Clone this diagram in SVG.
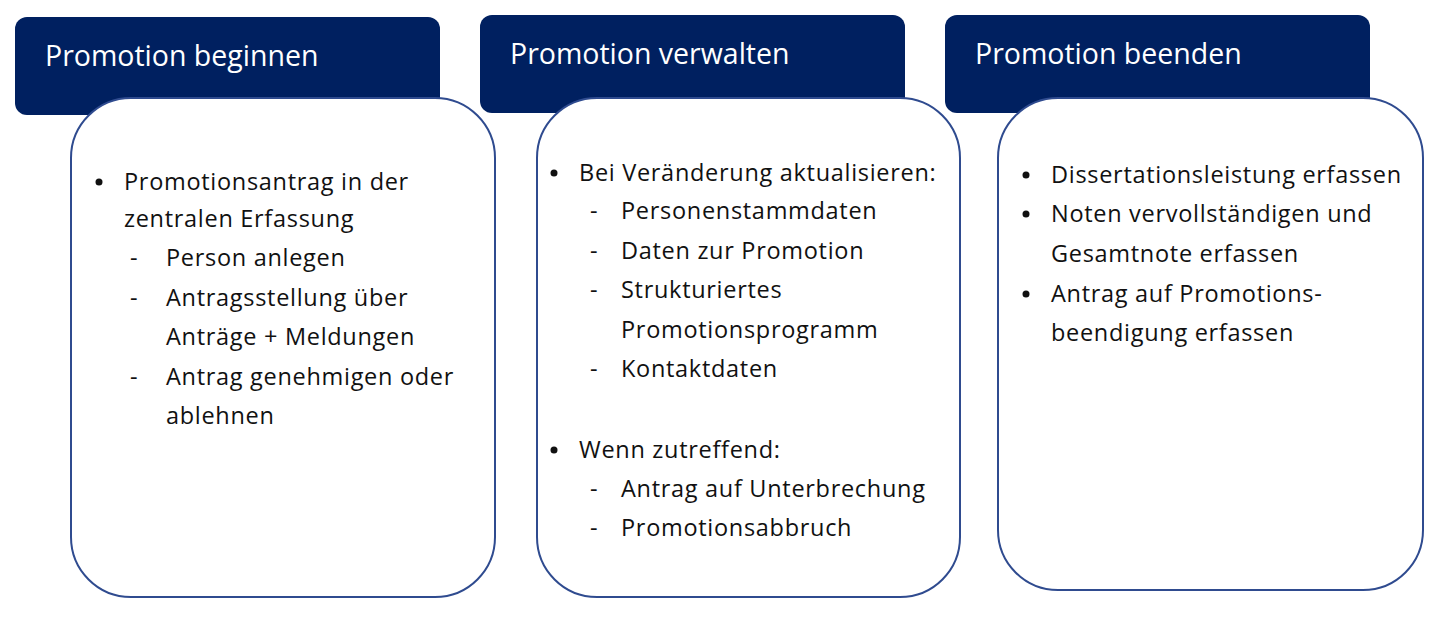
<svg xmlns="http://www.w3.org/2000/svg" width="1440" height="619" viewBox="0 0 1440 619">
<style>
.hd{fill:#002060}
.card{fill:#fff;stroke:#2f4b8f;stroke-width:2}
.ht{font-family:"Open Sans","Liberation Sans",sans-serif;font-size:28.5px;fill:#fff}
.t{font-family:"Open Sans","Liberation Sans",sans-serif;font-size:23.5px;letter-spacing:0.7px;fill:#111}
</style>
<rect width="1440" height="619" fill="#fff"/>
<g id="n1">
<rect class="hd" x="15" y="17" width="425" height="98" rx="12"/>
<text class="ht" x="45" y="66">Promotion beginnen</text>
<rect class="card" x="71" y="98" width="424" height="499" rx="60"/>
<circle cx="99" cy="182" r="3.5" fill="#111"/>
<text class="t" x="124" y="190">Promotionsantrag in der</text>
<text class="t" x="124" y="227">zentralen Erfassung</text>
<text class="t" x="130" y="266">-</text><text class="t" x="166" y="266">Person anlegen</text>
<text class="t" x="130" y="306">-</text><text class="t" x="166" y="306">Antragsstellung über</text>
<text class="t" x="166" y="345">Anträge + Meldungen</text>
<text class="t" x="130" y="385">-</text><text class="t" x="166" y="385">Antrag genehmigen oder</text>
<text class="t" x="166" y="424">ablehnen</text>
</g>
<g id="n2">
<rect class="hd" x="480" y="15" width="425" height="98" rx="12"/>
<text class="ht" x="510" y="64">Promotion verwalten</text>
<rect class="card" x="537" y="98" width="423" height="499" rx="60"/>
<circle cx="554" cy="173" r="3.5" fill="#111"/>
<text class="t" x="579" y="181">Bei Veränderung aktualisieren:</text>
<text class="t" x="590" y="219">-</text><text class="t" x="621" y="219">Personenstammdaten</text>
<text class="t" x="590" y="259">-</text><text class="t" x="621" y="259">Daten zur Promotion</text>
<text class="t" x="590" y="298">-</text><text class="t" x="621" y="298">Strukturiertes</text>
<text class="t" x="621" y="338">Promotionsprogramm</text>
<text class="t" x="590" y="377">-</text><text class="t" x="621" y="377">Kontaktdaten</text>
<circle cx="554" cy="450" r="3.5" fill="#111"/>
<text class="t" x="579" y="458">Wenn zutreffend:</text>
<text class="t" x="590" y="497">-</text><text class="t" x="621" y="497">Antrag auf Unterbrechung</text>
<text class="t" x="590" y="536">-</text><text class="t" x="621" y="536">Promotionsabbruch</text>
</g>
<g id="n3">
<rect class="hd" x="945" y="15" width="425" height="98" rx="12"/>
<text class="ht" x="975" y="64">Promotion beenden</text>
<rect class="card" x="998" y="98" width="425" height="492" rx="60"/>
<circle cx="1026" cy="175" r="3.5" fill="#111"/>
<text class="t" x="1051" y="183">Dissertationsleistung erfassen</text>
<circle cx="1026" cy="214" r="3.5" fill="#111"/>
<text class="t" x="1051" y="222">Noten vervollständigen und</text>
<text class="t" x="1051" y="262">Gesamtnote erfassen</text>
<circle cx="1026" cy="294" r="3.5" fill="#111"/>
<text class="t" x="1051" y="302">Antrag auf Promotions-</text>
<text class="t" x="1051" y="341">beendigung erfassen</text>
</g>
<g id="connectors"/>
</svg>
